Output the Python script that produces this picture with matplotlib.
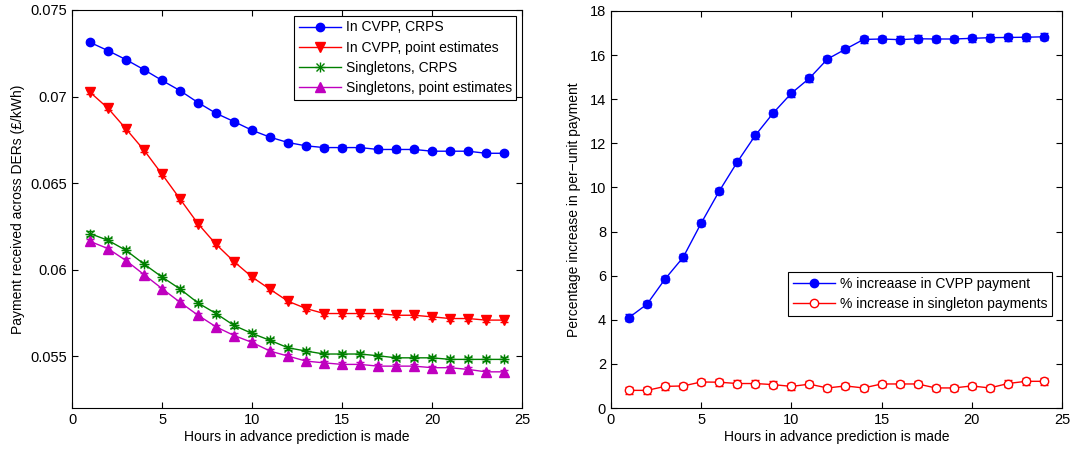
import numpy as np
import matplotlib
matplotlib.use("Agg")
import matplotlib.pyplot as plt
from matplotlib.ticker import FormatStrFormatter

plt.rcParams['font.family'] = ['Liberation Sans', 'DejaVu Sans']
plt.rcParams['font.size'] = 10

hours = np.arange(1, 25)

# left panel: payment received (GBP/kWh)
cvpp_crps = [0.07313, 0.07265, 0.07213, 0.07155, 0.07093, 0.07034, 0.06965, 0.06903,
             0.06855, 0.06805, 0.06765, 0.06734, 0.06715, 0.06705, 0.06705, 0.06705,
             0.06694, 0.06694, 0.06694, 0.06684, 0.06684, 0.06684, 0.06672, 0.06672]
cvpp_point = [0.07025, 0.06932, 0.06813, 0.06690, 0.06551, 0.06408, 0.06265, 0.06146,
              0.06046, 0.05957, 0.05886, 0.05817, 0.05775, 0.05746, 0.05746, 0.05746,
              0.05746, 0.05736, 0.05736, 0.05727, 0.05717, 0.05717, 0.05708, 0.05708]
single_crps = [0.06208, 0.06169, 0.06111, 0.06032, 0.05957, 0.05888, 0.05807, 0.05746,
               0.05677, 0.05631, 0.05591, 0.05548, 0.05529, 0.05512, 0.05512, 0.05512,
               0.05502, 0.05490, 0.05490, 0.05490, 0.05481, 0.05481, 0.05481, 0.05481]
single_point = [0.06163, 0.06121, 0.06052, 0.05971, 0.05890, 0.05811, 0.05736, 0.05669,
                0.05619, 0.05579, 0.05529, 0.05500, 0.05471, 0.05461, 0.05452, 0.05452,
                0.05442, 0.05442, 0.05442, 0.05433, 0.05433, 0.05423, 0.05409, 0.05409]
err_left = 0.00012

# right panel: percentage increase
pct_cvpp = [4.10, 4.71, 5.85, 6.83, 8.38, 9.83, 11.15, 12.36, 13.38, 14.27, 14.95, 15.82,
            16.27, 16.71, 16.73, 16.70, 16.74, 16.73, 16.73, 16.76, 16.79, 16.80, 16.81, 16.83]
pct_single = [0.80, 0.80, 0.98, 1.00, 1.18, 1.17, 1.11, 1.11, 1.06, 0.98, 1.08, 0.91,
              1.00, 0.91, 1.09, 1.09, 1.09, 0.91, 0.91, 1.00, 0.91, 1.11, 1.21, 1.21]
err_right = 0.15

fig = plt.figure(figsize=(10.7, 4.54), dpi=100)
ax1 = fig.add_axes([0.0673, 0.1013, 0.4206, 0.8767])
ax2 = fig.add_axes([0.5710, 0.1013, 0.4215, 0.8745])

ekw = dict(fmt='none', capsize=3, elinewidth=1)
leg_kw = dict(fancybox=False, edgecolor='black', framealpha=1, handlelength=3.0,
              borderpad=0.35, labelspacing=0.45, handletextpad=0.35, fontsize=10)

ax1.errorbar(hours, cvpp_crps, yerr=err_left, ecolor='blue', **ekw)
ax1.errorbar(hours, cvpp_point, yerr=err_left, ecolor='red', **ekw)
ax1.errorbar(hours, single_crps, yerr=err_left, ecolor='green', **ekw)
ax1.errorbar(hours, single_point, yerr=err_left, ecolor='m', **ekw)
h1, = ax1.plot(hours, cvpp_crps, color='blue', marker='o', markersize=6, lw=1)
h2, = ax1.plot(hours, cvpp_point, color='red', marker='v', markersize=7, lw=1)
h3, = ax1.plot(hours, single_crps, color='green', marker='x', markersize=5.5, lw=1)
h3b, = ax1.plot(hours, single_crps, color='green', marker='+', markersize=7, lw=1,
                linestyle='none')
h4, = ax1.plot(hours, single_point, color='m', marker='^', markersize=7, lw=1)
ax1.set_xlim(0, 25)
ax1.set_ylim(0.052, 0.075)
ax1.set_yticks([0.055, 0.06, 0.065, 0.07, 0.075])
ax1.yaxis.set_major_formatter(FormatStrFormatter('%g'))
ax1.set_xlabel('Hours in advance prediction is made', labelpad=2)
ax1.set_ylabel('Payment received across DERs (£/kWh)', labelpad=4)
leg1 = ax1.legend([h1, h2, (h3, h3b), h4],
                  ['In CVPP, CRPS', 'In CVPP, point estimates', 'Singletons, CRPS',
                   'Singletons, point estimates'],
                  loc='upper right', borderaxespad=0.4, **leg_kw)
leg1.get_frame().set_linewidth(0.8)

ax2.errorbar(hours, pct_cvpp, yerr=err_right, ecolor='blue', **ekw)
ax2.errorbar(hours, pct_single, yerr=err_right, ecolor='red', **ekw)
g1, = ax2.plot(hours, pct_cvpp, color='blue', marker='o', markersize=6, lw=1)
g2, = ax2.plot(hours, pct_single, color='red', marker='o', markersize=6, lw=1,
               markerfacecolor='white')
ax2.set_xlim(0, 25)
ax2.set_ylim(0, 18)
ax2.set_yticks(range(0, 19, 2))
ax2.set_xlabel('Hours in advance prediction is made', labelpad=2)
ax2.set_ylabel('Percentage increase in per\u2212unit payment', labelpad=6)
leg2 = ax2.legend([g1, g2], ['% increaase in CVPP payment', '% increase in singleton payments'],
                  loc='center right', bbox_to_anchor=(0.978, 0.287), borderaxespad=0,
                  **leg_kw)
leg2.get_frame().set_linewidth(0.8)

for ax in (ax1, ax2):
    ax.set_xticks([0, 5, 10, 15, 20, 25])
    ax.tick_params(direction='in', top=True, right=True, length=4, labelsize=10.5)
    for s in ax.spines.values():
        s.set_linewidth(0.8)

fig.savefig('out.png', dpi=100)
